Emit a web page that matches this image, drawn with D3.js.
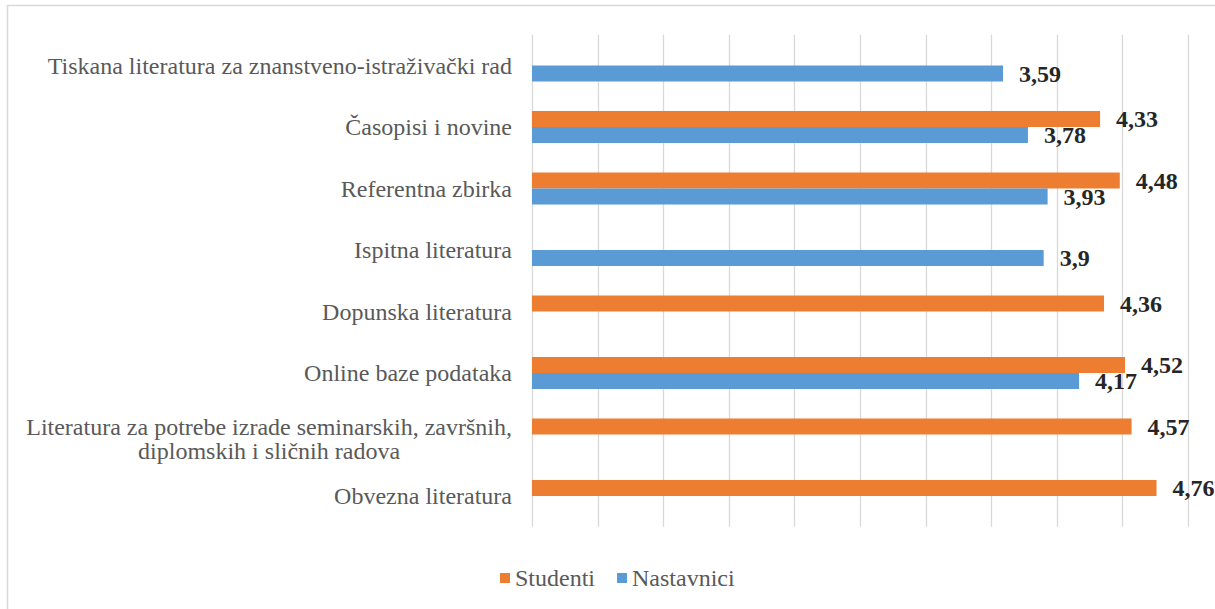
<!DOCTYPE html>
<html><head><meta charset="utf-8">
<script src="https://cdn.jsdelivr.net/npm/d3@7"></script>
<style>body{margin:0;background:#fff}svg{display:block}</style>
</head><body>
<svg id="c" width="1215" height="609"></svg>
<script>
const categories = [
  ["Tiskana literatura za znanstveno-istraživački rad"],
  ["Časopisi i novine"],
  ["Referentna zbirka"],
  ["Ispitna literatura"],
  ["Dopunska literatura"],
  ["Online baze podataka"],
  ["Literatura za potrebe izrade seminarskih, završnih,", "diplomskih i sličnih radova"],
  ["Obvezna literatura"]
];
const studenti    = [null, 4.33, 4.48, null, 4.36, 4.52, 4.57, 4.76];
const nastavnici  = [3.59, 3.78, 3.93, 3.9, null, 4.17, null, null];
const seriesNames = ["Studenti", "Nastavnici"];
const seriesColors = ["#ED7D31", "#5B9BD5"];
const xTicks = [0,0.5,1,1.5,2,2.5,3,3.5,4,4.5,5];

const svg = d3.select("#c");
const font = "'Liberation Serif','Times New Roman',serif";
svg.append("rect").attr("x",7.5).attr("y",5.5).attr("width",1220).attr("height",620)
  .attr("fill","#fff").attr("stroke","#d9d9d9").attr("stroke-width",1.5);

const x = d3.scaleLinear().domain([0,5]).range([532,1188]);
const y = d3.scaleBand().domain(d3.range(categories.length)).range([34.75,526.75]);
const barH = 16;

svg.append("g").selectAll("line").data(xTicks).join("line")
  .attr("x1",d=>Math.round(x(d))+0.5).attr("x2",d=>Math.round(x(d))+0.5)
  .attr("y1",y.range()[0]).attr("y2",y.range()[1])
  .attr("stroke","#d9d9d9").attr("stroke-width",1.3);

const series = [studenti, nastavnici];
series.forEach((vals,si)=>{
  const pts = vals.map((v,i)=>({v,i})).filter(d=>d.v!=null);
  const yOff = si===0 ? -barH : 0;
  svg.append("g").selectAll("rect").data(pts).join("rect")
    .attr("x",x(0)).attr("width",d=>x(d.v)-x(0))
    .attr("y",d=>y(d.i)+y.bandwidth()/2+yOff).attr("height",barH)
    .attr("fill",seriesColors[si]);
  svg.append("g").selectAll("text").data(pts).join("text")
    .attr("x",d=>x(d.v)+16)
    .attr("y",d=>y(d.i)+y.bandwidth()/2+yOff+barH/2)
    .attr("dy","0.35em")
    .attr("font-family",font).attr("font-size",24).attr("font-weight","bold")
    .attr("fill","#262626")
    .text(d=>String(d.v).replace(".",","));
});

// category labels
categories.forEach((lines,i)=>{
  const cy = y(i)+y.bandwidth()/2;
  if(lines.length===1){
    svg.append("text").attr("x",512).attr("y",cy).attr("dy","0.35em")
      .attr("text-anchor","end").attr("font-family",font).attr("font-size",24)
      .attr("fill","#595959").text(lines[0]);
  } else {
    const g = svg.append("g");
    const ts = lines.map((l,k)=>g.append("text").attr("y",cy-8+k*24).attr("dy","0.35em")
      .attr("text-anchor","middle").attr("font-family",font).attr("font-size",24)
      .attr("fill","#595959").text(l));
    const w = d3.max(ts, t=>t.node().getComputedTextLength());
    ts.forEach(t=>t.attr("x",512-w/2));
  }
});

// legend
const leg = svg.append("g");
let lx = 500;
seriesNames.forEach((n,i)=>{
  leg.append("rect").attr("x",lx).attr("y",573).attr("width",10).attr("height",10).attr("fill",seriesColors[i]);
  const t = leg.append("text").attr("x",lx+15).attr("y",578).attr("dy","0.35em")
    .attr("font-family",font).attr("font-size",24).attr("fill","#595959").text(n);
  lx += 15 + t.node().getComputedTextLength() + 22;
});
</script>
</body></html>
